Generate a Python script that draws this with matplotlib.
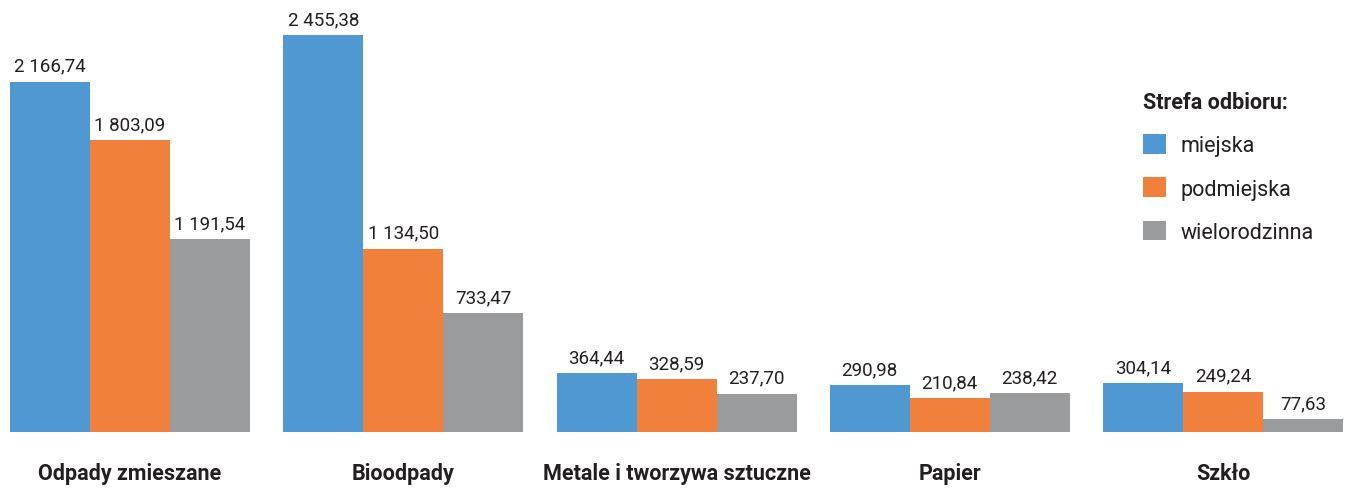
import matplotlib
matplotlib.use("Agg")
import matplotlib.pyplot as plt
from matplotlib import font_manager
from matplotlib.patches import Patch
import numpy as np

categories = ["Odpady zmieszane", "Bioodpady", "Metale i tworzywa sztuczne", "Papier", "Szkło"]
series_names = ["miejska", "podmiejska", "wielorodzinna"]
miejska = [2166.74, 2455.38, 364.44, 290.98, 304.14]
podmiejska = [1803.09, 1134.50, 328.59, 210.84, 249.24]
wielorodzinna = [1191.54, 733.47, 237.70, 238.42, 77.63]
colors = ["#4f98d2", "#f0803c", "#999b9c"]
legend_title = "Strefa odbioru:"

avail = {f.name for f in font_manager.fontManager.ttflist}
fam = None
for cand in ["Roboto", "Noto Sans", "DejaVu Sans"]:
    if cand in avail:
        fam = cand
        break
plt.rcParams["font.family"] = [fam, "DejaVu Sans"]

W, H, DPI = 1348, 489, 100
fig = plt.figure(figsize=(W / DPI, H / DPI), dpi=DPI)
base_px = 56
ax = fig.add_axes([0, base_px / H, 1, (H - base_px) / H])

group_step_px = 273.25
first_center_px = 130
bar_w = 80 / group_step_px
x = np.arange(len(categories))
ax.set_xlim(-first_center_px / group_step_px, (W - first_center_px) / group_step_px)
ax.set_ylim(0, 2455.38 * (H - base_px) / 397)

def fmt(v):
    s = f"{v:,.2f}"
    return s.replace(",", " ").replace(".", ",")

all_series = [miejska, podmiejska, wielorodzinna]
for k, (vals, col, name) in enumerate(zip(all_series, colors, series_names)):
    xs = x + (k - 1) * bar_w
    ax.bar(xs, vals, width=bar_w, color=col, linewidth=0, label=name)
    for xi, v in zip(xs, vals):
        ax.annotate(fmt(v), (xi, v), xytext=(0, 5), textcoords="offset points",
                    ha="center", va="bottom", fontsize=13.5, color="#231f20")

for xi, c in zip(x, categories):
    ax.annotate(c, (xi, 0), xytext=(0, -29.5), textcoords="offset points",
                ha="center", va="center", fontsize=15.5, fontweight="bold", color="#231f20")

ax.axis("off")

handles = [Patch(facecolor=c, edgecolor="none") for c in colors]
leg = fig.legend(handles, series_names, title=legend_title, loc="upper left",
                 bbox_to_anchor=(1126 / W, 1 - 75 / H), frameon=False,
                 fontsize=15.5, title_fontsize=15.5, handlelength=1.05, handleheight=1.05,
                 labelspacing=0.97, handletextpad=0.7, alignment="left", borderpad=0.3)
leg.get_title().set_fontweight("bold")
leg.get_title().set_color("#231f20")
for t in leg.get_texts():
    t.set_color("#231f20")

fig.savefig("out.png", dpi=DPI, facecolor="white")
